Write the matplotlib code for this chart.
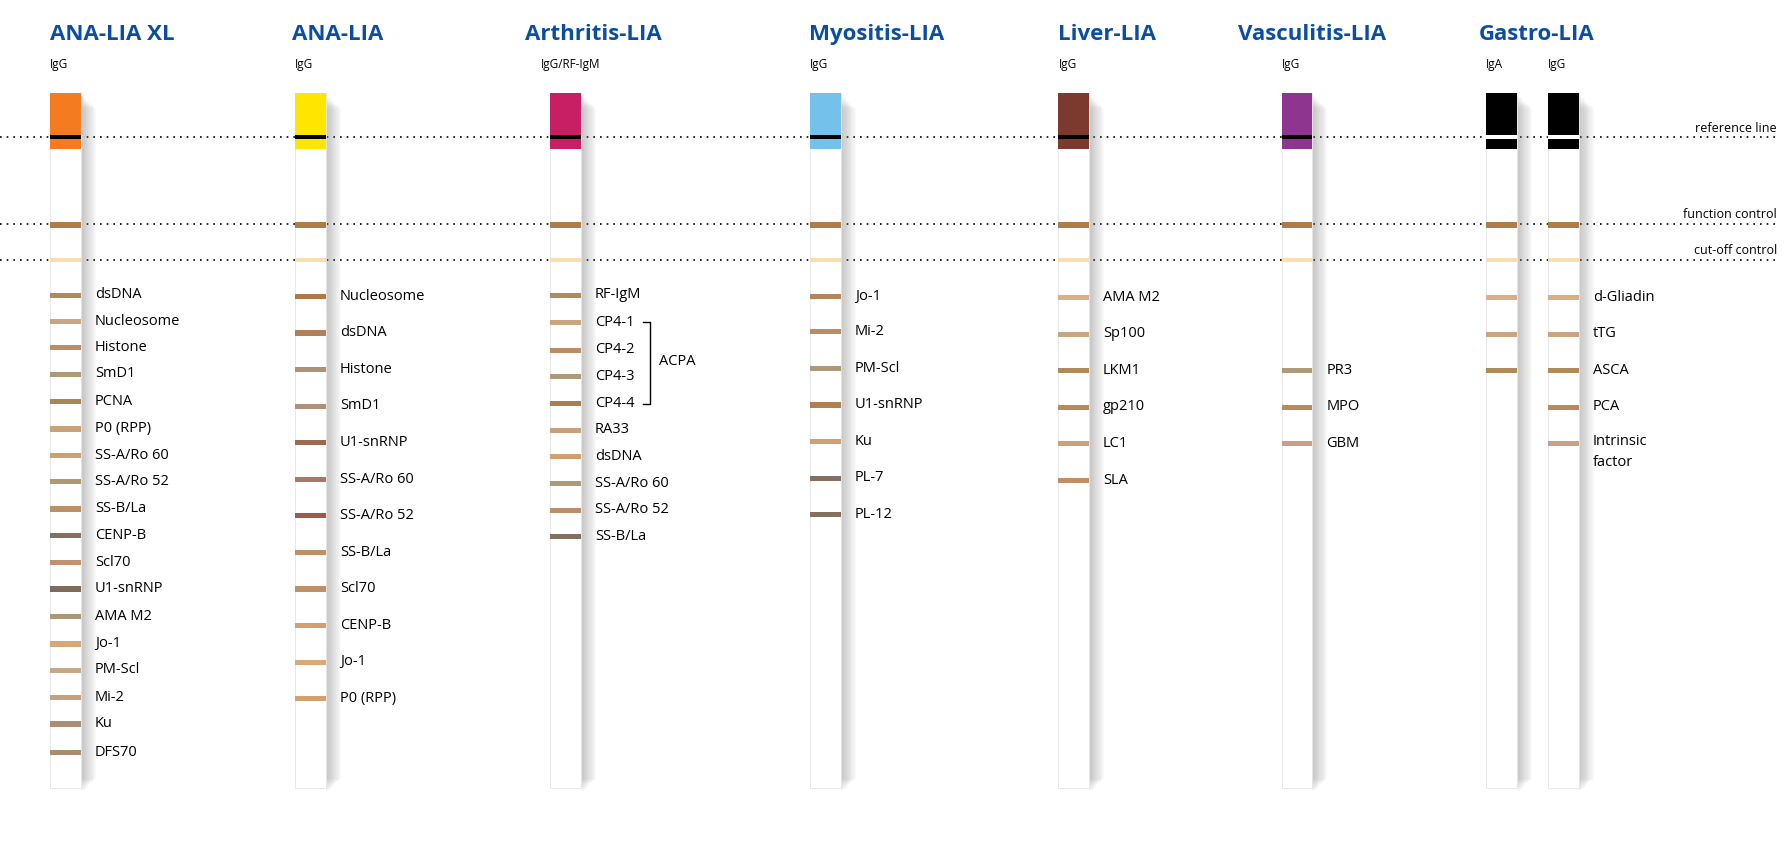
import matplotlib.pyplot as plt
from matplotlib.patches import Rectangle

# layout in reference display units (1560 x 740), scaled to 1785 x 846 output
titles = ["ANA-LIA XL", "ANA-LIA", "Arthritis-LIA", "Myositis-LIA", "Liver-LIA", "Vasculitis-LIA", "Gastro-LIA"]
title_x = [44, 255, 459, 707, 925, 1082, 1292]

strip_x = [44, 258, 481, 708, 925, 1120, 1299, 1353]
strip_sub = ["IgG", "IgG", "IgG/RF-IgM", "IgG", "IgG", "IgG", "IgA", "IgG"]
sub_x = [44, 258, 473, 708, 925, 1120, 1299, 1353]
block_colors = ["#f47b20", "#ffe600", "#c81f64", "#74c2ec", "#7b3a2d", "#8e3592", "#000000", "#000000"]
ref_colors = ["black"] * 6 + ["white", "white"]

labels = [
    ["dsDNA", "Nucleosome", "Histone", "SmD1", "PCNA", "P0 (RPP)", "SS-A/Ro 60", "SS-A/Ro 52", "SS-B/La",
     "CENP-B", "Scl70", "U1-snRNP", "AMA M2", "Jo-1", "PM-Scl", "Mi-2", "Ku", "DFS70"],
    ["Nucleosome", "dsDNA", "Histone", "SmD1", "U1-snRNP", "SS-A/Ro 60", "SS-A/Ro 52", "SS-B/La", "Scl70",
     "CENP-B", "Jo-1", "P0 (RPP)"],
    ["RF-IgM", "CP4-1", "CP4-2", "CP4-3", "CP4-4", "RA33", "dsDNA", "SS-A/Ro 60", "SS-A/Ro 52", "SS-B/La"],
    ["Jo-1", "Mi-2", "PM-Scl", "U1-snRNP", "Ku", "PL-7", "PL-12"],
    ["AMA M2", "Sp100", "LKM1", "gp210", "LC1", "SLA"],
    ["PR3", "MPO", "GBM"],
    ["", "", ""],
    ["d-Gliadin", "tTG", "ASCA", "PCA", "Intrinsic\nfactor"],
]
band_y = [
    [258, 281, 304, 327, 351, 375, 398, 421, 445, 468, 492, 515, 539, 563, 586, 610, 633, 658],
    [259, 291, 323, 355, 387, 419, 451, 483, 515, 547, 579, 611],
    [258, 282, 306, 329, 353, 376, 399, 423, 446, 469],
    [259, 290, 322, 354, 386, 418, 450],
    [260, 292, 324, 356, 388, 420],
    [324, 356, 388],
    [260, 292, 324],
    [260, 292, 324, 356, 388],
]
band_colors = [
    ["#b08a5a", "#c9a580", "#b98e64", "#ad9a78", "#a88850", "#c8a27a", "#cfa070", "#ad9a70", "#b9906a",
     "#85705f", "#c09070", "#7f6b5c", "#aa9a74", "#d6a878", "#c6a888", "#c8a080", "#ad8e72", "#a88d70"],
    ["#b07a48", "#b08058", "#ae9278", "#b09078", "#9a6a50", "#a87a62", "#9a5c48", "#be9068", "#be9068",
     "#d4a070", "#d8aa78", "#d4a070"],
    ["#b08a5a", "#c9a580", "#b98e64", "#ad9a78", "#a88050", "#c8a07a", "#d0a070", "#ad9a78", "#b9906a", "#85705f"],
    ["#b0865a", "#b98e64", "#ad9a78", "#b08050", "#d0a070", "#85705f", "#85705f"],
    ["#dcae84", "#c9a580", "#b08a5a", "#b98a5a", "#c8a27a", "#c09064"],
    ["#ad9a78", "#b98a5a", "#c8a088"],
    ["#dcae84", "#c9a580", "#b08a5a"],
    ["#dcae84", "#c9a580", "#b08a5a", "#b98a5a", "#c8a088"],
]

control_y = [120, 196, 227]
control_names = ["reference line", "function control", "cut-off control"]

W, H = 1560, 740
SW = 27
fig = plt.figure(figsize=(17.85, 8.46), dpi=100)
ax = fig.add_axes([0, 0, 1, 1])
ax.set_xlim(0, W)
ax.set_ylim(H, 0)
ax.axis("off")

font = "Open Sans"
blue = "#0a4ea3"

for t, x in zip(titles, title_x):
    ax.text(x, 30, t, fontsize=16, fontweight="bold", color=blue, family=font, va="center", ha="left")

for s, x in zip(strip_sub, sub_x):
    ax.text(x, 56, s, fontsize=8.5, family=font, va="center", ha="left")

# dotted control lines
for y, name in zip(control_y, control_names):
    ax.plot([0, 1553], [y, y], color="black", lw=1.2, ls=(0, (1, 3)), zorder=1)
    ax.text(1553, y - 8, name, fontsize=9, family=font, ha="right", va="center")

for i, x in enumerate(strip_x):
    # soft shadow
    for k in range(12):
        ax.add_patch(Rectangle((x + SW, 84 + k), 2 + k, 608 - 2 * k, color="#808080", alpha=0.04, lw=0, zorder=2))
    ax.add_patch(Rectangle((x, 81), SW, 608, facecolor="white", edgecolor="#e4e4e4", lw=0.6, zorder=3))
    ax.add_patch(Rectangle((x, 81), SW, 49, facecolor=block_colors[i], lw=0, zorder=4))
    ax.add_patch(Rectangle((x, 118), SW, 4, facecolor=ref_colors[i], lw=0, zorder=5))
    ax.add_patch(Rectangle((x, 194), SW, 5, facecolor="#b07d48", lw=0, zorder=5))
    ax.add_patch(Rectangle((x, 226), SW, 3, facecolor="#f8deb0", lw=0, zorder=5))
    for lab, y, c in zip(labels[i], band_y[i], band_colors[i]):
        ax.add_patch(Rectangle((x, y - 2), SW, 4.5, facecolor=c, lw=0, zorder=5))
        if lab:
            va = "top" if "\n" in lab else "center"
            ax.text(x + SW + 12, y - 8 if va == "top" else y, lab, fontsize=10.5, family=font,
                    va=va, ha="left", linespacing=1.5)

# ACPA bracket
ax.plot([562, 568, 568, 562], [282, 282, 353, 353], color="black", lw=1)
ax.text(576, 316, "ACPA", fontsize=10.5, family=font, va="center", ha="left")

fig.savefig("out.png", dpi=100)
